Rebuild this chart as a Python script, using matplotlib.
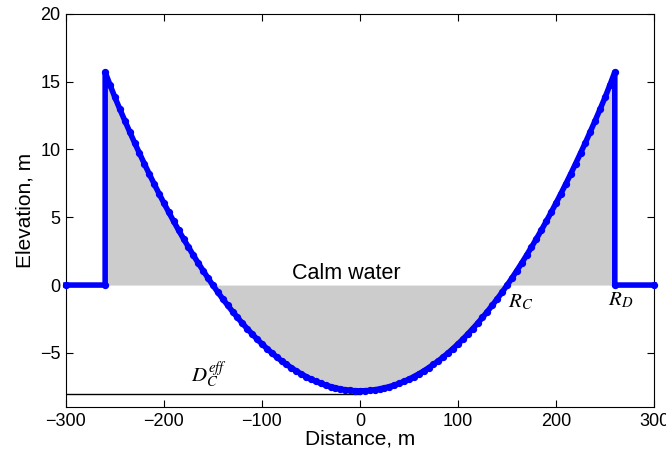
import matplotlib
matplotlib.use("Agg")
import matplotlib.pyplot as plt
import numpy as np

plt.rcParams['font.family'] = ['Liberation Sans', 'DejaVu Sans']
plt.rcParams['mathtext.fontset'] = 'stix'

# beach profile (5 m spacing)
half_x = [0, 5, 10, 15, 20, 25, 30, 35, 40, 45, 50, 55, 60, 65, 70, 75, 80, 85,
          90, 95, 100, 105, 110, 115, 120, 125, 130, 135, 140, 145, 150, 155,
          160, 165, 170, 175, 180, 185, 190, 195, 200, 205, 210, 215, 220, 225,
          230, 235, 240, 245, 250, 255, 260]
half_z = [-7.80, -7.79, -7.77, -7.72, -7.66, -7.58, -7.49, -7.38, -7.25, -7.10,
          -6.94, -6.75, -6.55, -6.34, -6.10, -5.85, -5.59, -5.30, -5.00, -4.68,
          -4.34, -3.99, -3.61, -3.22, -2.82, -2.39, -1.95, -1.49, -1.02, -0.53,
          -0.02, 0.51, 1.06, 1.62, 2.20, 2.80, 3.41, 4.04, 4.69, 5.36, 6.04,
          6.74, 7.46, 8.19, 8.95, 9.72, 10.50, 11.31, 12.13, 12.97, 13.83,
          14.75, 15.70]

# full profile incl. flat calm-water parts and vertical walls
curve_x = [-v for v in half_x[::-1]] + half_x[1:]
curve_z = half_z[::-1] + half_z[1:]
prof_x = [-300, -260] + curve_x + [260, 300]
prof_z = [0, 0] + curve_z + [0, 0]

depth_line_x = [-300, 0]
depth_line_z = [-8, -8]

fig = plt.figure(figsize=(6.66, 4.59), dpi=100)
ax = fig.add_axes([0.099, 0.113, 0.883, 0.857])

ax.fill_between(curve_x, curve_z, 0, color='#cccccc', lw=0, zorder=1)
ax.plot(depth_line_x, depth_line_z, color='k', lw=1, zorder=2)
ax.plot(prof_x, prof_z, color='#0000ff', lw=4, marker='.', ms=8.5, zorder=3,
        clip_on=False)

ax.text(-14, 0.1, 'Calm water', fontsize=15.5, ha='center', va='bottom')
ax.text(151, -0.5, r'$R_C$', fontsize=15, ha='left', va='top')
ax.text(266, -0.4, r'$R_D$', fontsize=15, ha='center', va='top')
ax.text(-154, -6.6, r'$D_C^{eff}$', fontsize=15, ha='center', va='center')

ax.set_xlim(-300, 300)
ax.set_ylim(-9, 20)
ax.set_xticks([-300, -200, -100, 0, 100, 200, 300])
ax.set_xticklabels(['\u2212300', '\u2212200', '\u2212100', '0', '100', '200', '300'])
ax.set_yticks([-5, 0, 5, 10, 15, 20])
ax.set_yticklabels(['\u22125', '0', '5', '10', '15', '20'])
ax.tick_params(direction='in', top=True, right=True, labelsize=13, length=5, pad=4)
ax.set_xlabel('Distance, m', fontsize=15, labelpad=0)
ax.set_ylabel('Elevation, m', fontsize=15, labelpad=4)

fig.savefig('out.png', dpi=100)
